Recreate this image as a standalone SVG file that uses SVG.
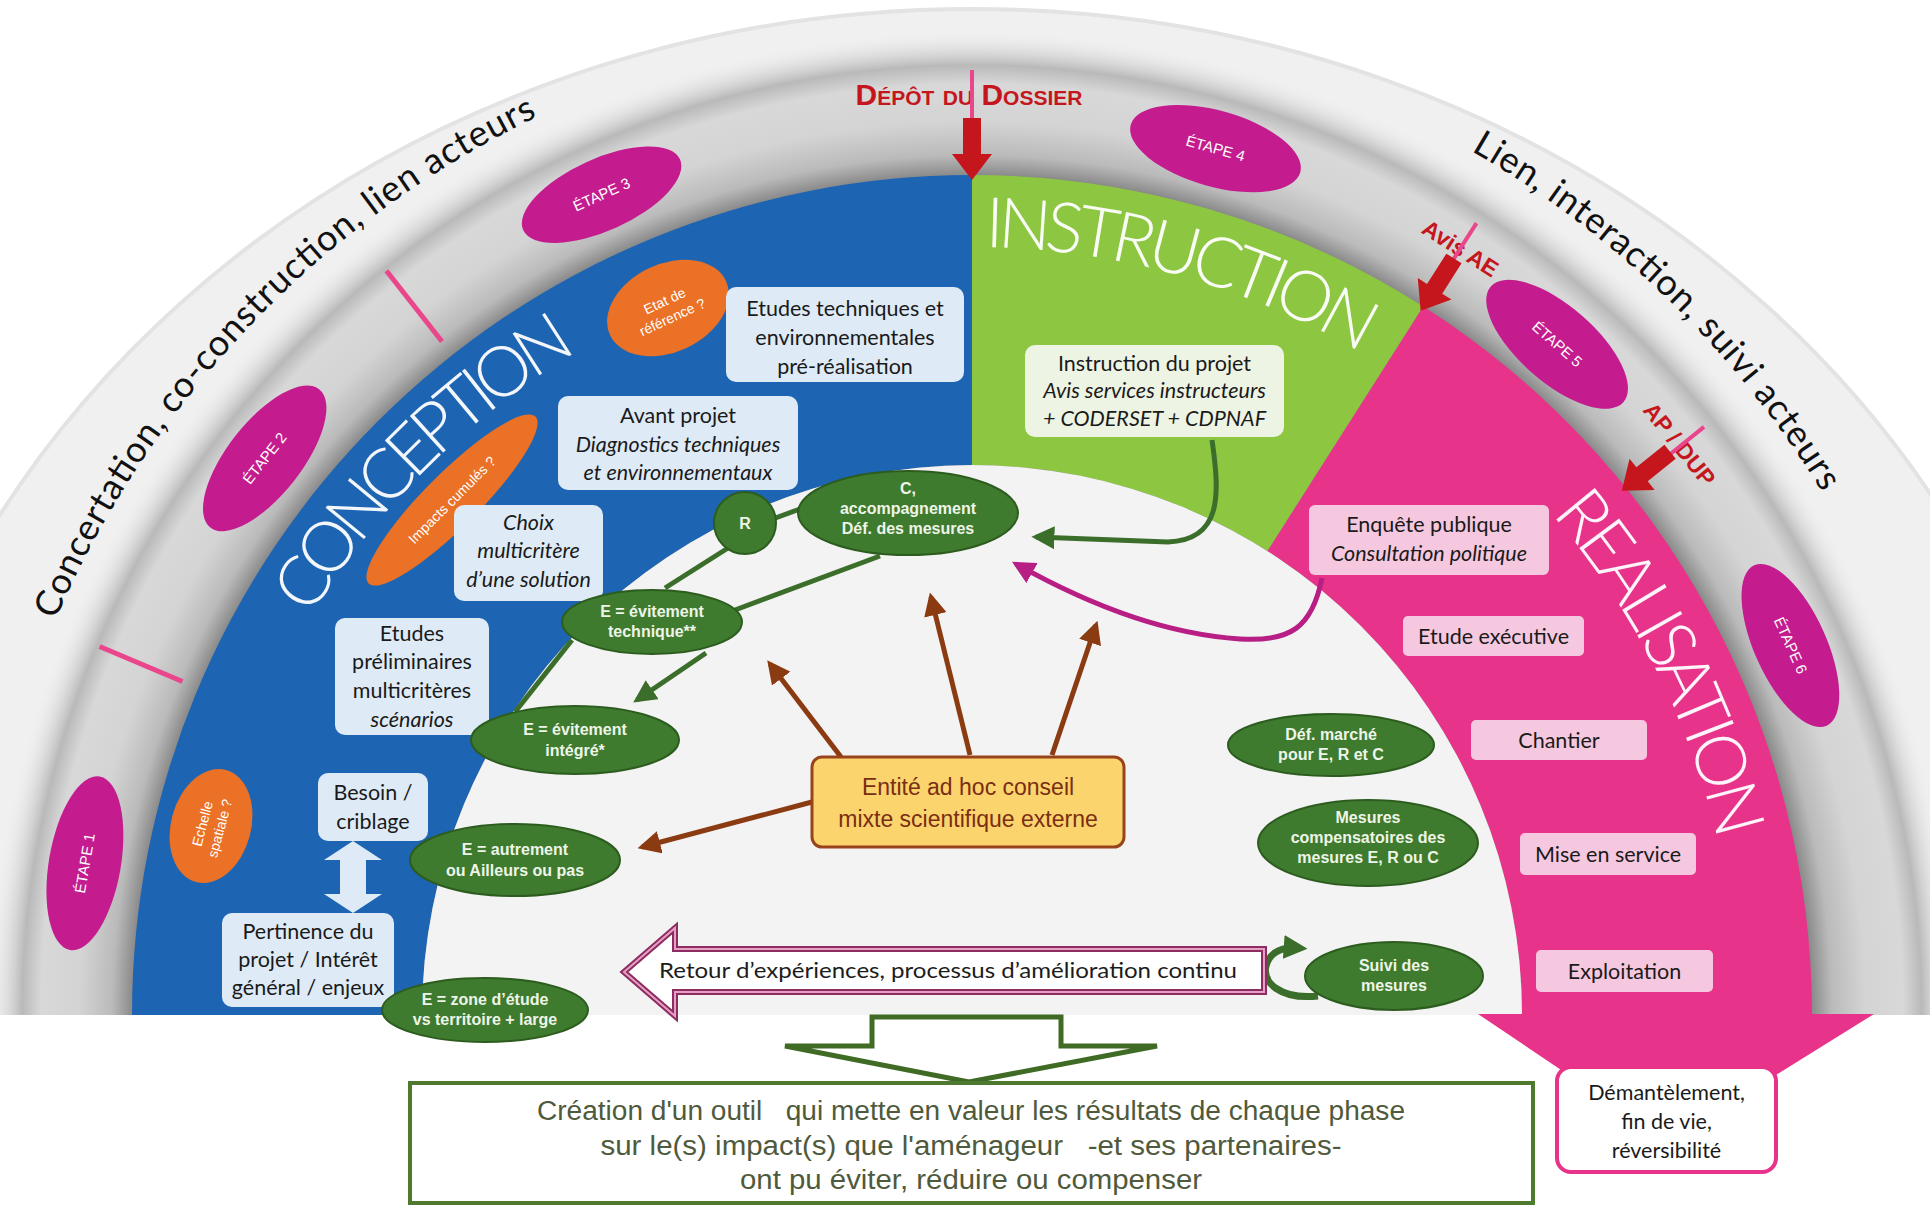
<svg xmlns="http://www.w3.org/2000/svg" width="1930" height="1205" viewBox="0 0 1930 1205">
<style>
.bx{font-family:Lato,'Liberation Sans',sans-serif;font-size:21.5px;fill:#1a1a1a;text-anchor:middle}
.it{font-style:italic}
.ge{font-family:'Liberation Sans',Arial,sans-serif;font-size:16px;font-weight:bold;fill:#eef5e8;text-anchor:middle}
.et{font-family:'Liberation Sans',Arial,sans-serif;font-size:15px;fill:#ffffff;text-anchor:middle}
.ot{font-family:'Liberation Sans',Arial,sans-serif;font-size:14px;fill:#ffffff;text-anchor:middle}
.ttl{font-family:Lato,'Liberation Sans',sans-serif;font-weight:300;font-size:70px;fill:#ffffff;fill-opacity:0.95}
.arcT{font-family:Lato,'Liberation Sans',sans-serif;font-size:36px;fill:#111111}
.red{font-family:'Liberation Sans',Arial,sans-serif;font-weight:bold;fill:#c4161c;text-anchor:middle}
.pk{stroke:#e9468c;stroke-width:4;fill:none}
.ra{fill:#c4161c}
.bb{fill:#deebf7}
.pb{fill:#f6c8df}
.eg{fill:#3e7b2e;stroke:#2d5c1f;stroke-width:2}
.et-el{fill:#c41c8e}
.or{fill:#ea7125}
.gl{stroke:#3b6e2b;stroke-width:5;fill:none}
.bl{stroke:#8a3b12;stroke-width:5;fill:none}
</style>
<defs>
<clipPath id="clipTop"><rect x="0" y="0" width="1930" height="1015"/></clipPath>
<radialGradient id="bandG" gradientUnits="userSpaceOnUse" cx="972" cy="1015" r="950">
<stop offset="0.884" stop-color="#8a8a8a"/>
<stop offset="0.905" stop-color="#bababa"/>
<stop offset="0.94" stop-color="#d4d4d4"/>
<stop offset="0.98" stop-color="#d8d8d8"/>
<stop offset="1" stop-color="#b9b9b9"/>
</radialGradient>
<radialGradient id="shadowG" gradientUnits="userSpaceOnUse" cx="972" cy="1015" r="985">
<stop offset="0.964" stop-color="#b8b8b8" stop-opacity="1"/>
<stop offset="1" stop-color="#efefef" stop-opacity="0"/>
</radialGradient>
<marker id="mBrown" viewBox="0 0 10 10" refX="8" refY="5" markerWidth="4.6" markerHeight="4.6" orient="auto"><path d="M0,0 L10,5 L0,10 z" fill="#8a3b12"/></marker>
<marker id="mGreen" viewBox="0 0 10 10" refX="8" refY="5" markerWidth="4.6" markerHeight="4.6" orient="auto"><path d="M0,0 L10,5 L0,10 z" fill="#3b6e2b"/></marker>
<marker id="mMag" viewBox="0 0 10 10" refX="8" refY="5" markerWidth="4.6" markerHeight="4.6" orient="auto"><path d="M0,0 L10,5 L0,10 z" fill="#b81f84"/></marker>
<marker id="mGreenBig" viewBox="0 0 10 10" refX="6" refY="5" markerWidth="3.4" markerHeight="3.4" orient="auto"><path d="M0,0 L10,5 L0,10 z" fill="#3b6e2b"/></marker>
<path id="outerArc" d="M-26,1015 A998,998 0 0 1 1970,1015" fill="none"/>
<path id="pC" d="M203.2,945.0 A772,772 0 0 1 907.4,245.7" fill="none"/>
<path id="pI" d="M656.0,315.0 A768,768 0 0 1 1606.4,582.2" fill="none"/>
<path id="pR" d="M1271.3,309.9 A766,766 0 0 1 1718.4,1187.3" fill="none"/>
</defs>

<rect x="0" y="0" width="1930" height="1205" fill="#ffffff"/>

<g id="background" clip-path="url(#clipTop)">
<ellipse cx="972" cy="1015" rx="1120" ry="1006" fill="#f0f0f0" stroke="#e3e3e3" stroke-width="4"/>
<circle cx="972" cy="1015" r="985" fill="url(#shadowG)"/>
<circle cx="972" cy="1015" r="950" fill="url(#bandG)"/>
<path id="sector-blue" d="M132,1015 A840,840 0 0 1 972,175 L972,465 A550,550 0 0 0 422,1015 Z" fill="#1d65b3"/>
<path id="sector-green" d="M972,175 A840,840 0 0 1 1423.3,306.5 L1267.5,551.1 A550,550 0 0 0 972,465 Z" fill="#8dc641"/>
<path id="sector-pink" d="M1423.3,306.5 A840,840 0 0 1 1812,1015 L1522,1015 A550,550 0 0 0 1267.5,551.1 Z" fill="#e8338a"/>
<circle cx="972" cy="1015" r="550" fill="#f3f3f3"/>
</g>
<polygon id="pink-arrowhead" points="1478,1014 1874,1014 1668,1142" fill="#e8338a"/>

<g id="ring-texts">
<text class="arcT"><textPath href="#outerArc" startOffset="406" textLength="712" lengthAdjust="spacing">Concertation, co-construction, lien acteurs</textPath></text>
<text class="arcT"><textPath href="#outerArc" startOffset="2090" textLength="495" lengthAdjust="spacing">Lien, interaction, suivi acteurs</textPath></text>
</g>

<g id="phase-titles">
<text class="ttl" text-anchor="middle"><textPath href="#pC" startOffset="50%" textLength="380" lengthAdjust="spacing">CONCEPTION</textPath></text>
<text class="ttl" text-anchor="middle"><textPath href="#pI" startOffset="50%" textLength="395" lengthAdjust="spacing">INSTRUCTION</textPath></text>
<text class="ttl" text-anchor="middle"><textPath href="#pR" startOffset="50%" textLength="370" lengthAdjust="spacing">REALISATION</textPath></text>
</g>

<g id="ticks">
<line x1="182.5" y1="681.5" x2="99.6" y2="646.5" stroke="#e9468c" stroke-width="5"/>
<line x1="442" y1="341.5" x2="386.4" y2="270.8" stroke="#e9468c" stroke-width="5"/>
</g>

<g id="etape1" transform="translate(84.9 863.3) rotate(-80.3)"><ellipse rx="88" ry="36" class="et-el"/><text class="et" y="5">ÉTAPE 1</text></g>
<g id="etape2" transform="translate(264.7 458.4) rotate(-51.8)"><ellipse rx="88" ry="37" class="et-el"/><text class="et" y="5">ÉTAPE 2</text></g>
<g id="etape3" transform="translate(601.6 194.7) rotate(-24.3)"><ellipse rx="86" ry="36" class="et-el"/><text class="et" y="5">ÉTAPE 3</text></g>
<g id="etape4" transform="translate(1215.5 148.6) rotate(15.7)"><ellipse rx="88" ry="38" class="et-el"/><text class="et" y="5">ÉTAPE 4</text></g>
<g id="etape5" transform="translate(1557.1 344.3) rotate(41.1)"><ellipse rx="88" ry="38" class="et-el"/><text class="et" y="5">ÉTAPE 5</text></g>
<g id="etape6" transform="translate(1790.4 645.5) rotate(65.7)"><ellipse rx="88" ry="36" class="et-el"/><text class="et" y="5">ÉTAPE 6</text></g>

<g id="depot" transform="translate(972 180)">
<text class="red" x="-3" y="-75" font-size="30" font-variant="small-caps">Dépôt du Dossier</text>
<line x1="0" y1="-110" x2="0" y2="-60" class="pk"/>
<polygon class="ra" points="-9,-62 9,-62 9,-26 20,-26 0,0 -20,-26 -9,-26"/>
</g>
<g id="avis-ae" transform="translate(972 1015) rotate(32.5) translate(0 -835)">
<text class="red" x="0" y="-66" font-size="23">Avis AE</text>
<line x1="0" y1="-104" x2="0" y2="-60" class="pk"/>
<polygon class="ra" points="-9,-62 9,-62 9,-26 20,-26 0,0 -20,-26 -9,-26"/>
</g>
<g id="ap-dup" transform="translate(972 1015) rotate(51.1) translate(0 -835)">
<text class="red" x="0" y="-66" font-size="23">AP / DUP</text>
<line x1="2" y1="-104" x2="2" y2="-60" class="pk"/>
<polygon class="ra" points="-9,-62 9,-62 9,-26 20,-26 0,0 -20,-26 -9,-26"/>
</g>

<g id="orange-etat" transform="translate(668 308) rotate(-25)"><ellipse rx="64" ry="44" class="or"/><text class="ot" y="-3">Etat de</text><text class="ot" y="15">référence ?</text></g>
<g id="orange-impacts" transform="translate(452 500) rotate(-45)"><ellipse rx="118" ry="27" class="or"/><text class="ot" y="5">Impacts cumulés ?</text></g>
<g id="orange-echelle" transform="translate(211 826) rotate(-75)"><ellipse rx="58" ry="40" class="or"/><text class="ot" y="-4">Echelle</text><text class="ot" y="14">spatiale ?</text></g>

<g id="box-etudes-tech"><rect x="726" y="287" width="238" height="95" rx="10" class="bb"/><text class="bx" x="845" y="316">Etudes techniques et</text><text class="bx" x="845" y="345">environnementales</text><text class="bx" x="845" y="374">pré-réalisation</text></g>
<g id="box-avant-projet"><rect x="558" y="396" width="240" height="94" rx="10" class="bb"/><text class="bx" x="678" y="423">Avant projet</text><text class="bx it" x="678" y="452">Diagnostics techniques</text><text class="bx it" x="678" y="480">et environnementaux</text></g>
<g id="box-choix"><rect x="454" y="505" width="149" height="96" rx="10" class="bb"/><text class="bx it" x="528.5" y="530">Choix</text><text class="bx it" x="528.5" y="558">multicritère</text><text class="bx it" x="528.5" y="587">d’une solution</text></g>
<g id="box-etudes-prelim"><rect x="335" y="618" width="154" height="117" rx="10" class="bb"/><text class="bx" x="412" y="641">Etudes</text><text class="bx" x="412" y="669">préliminaires</text><text class="bx" x="412" y="698">multicritères</text><text class="bx it" x="412" y="727">scénarios</text></g>
<g id="box-besoin"><rect x="318" y="773" width="110" height="68" rx="10" class="bb"/><text class="bx" x="373" y="800">Besoin /</text><text class="bx" x="373" y="829">criblage</text></g>
<g id="box-pertinence"><rect x="222" y="913" width="172" height="94" rx="10" class="bb"/><text class="bx" x="308" y="939">Pertinence du</text><text class="bx" x="308" y="967">projet / Intérêt</text><text class="bx" x="308" y="995">général / enjeux</text></g>
<polygon id="double-arrow" points="353,841 382,860 366,860 366,894 382,894 353,913 324,894 340,894 340,860 324,860" fill="#deebf7"/>

<g id="box-instruction"><rect x="1025" y="345" width="259" height="92" rx="10" fill="#eef4e4"/><text class="bx" x="1154.5" y="371">Instruction du projet</text><text class="bx it" x="1154.5" y="398">Avis services instructeurs</text><text class="bx it" x="1154.5" y="426">+ CODERSET + CDPNAF</text></g>

<g id="box-enquete"><rect x="1309" y="505" width="240" height="70" rx="6" class="pb"/><text class="bx" x="1429" y="532">Enquête publique</text><text class="bx it" x="1429" y="561">Consultation politique</text></g>
<g id="box-etude-exec"><rect x="1403" y="616" width="181" height="40" rx="5" class="pb"/><text class="bx" x="1493.5" y="644">Etude exécutive</text></g>
<g id="box-chantier"><rect x="1471" y="720" width="176" height="40" rx="5" class="pb"/><text class="bx" x="1559" y="748">Chantier</text></g>
<g id="box-mise"><rect x="1520" y="833" width="176" height="42" rx="5" class="pb"/><text class="bx" x="1608" y="862">Mise en service</text></g>
<g id="box-exploitation"><rect x="1536" y="950" width="177" height="42" rx="5" class="pb"/><text class="bx" x="1624.5" y="979">Exploitation</text></g>
<g id="box-demantelement"><rect x="1557" y="1067" width="219" height="105" rx="14" fill="#ffffff" stroke="#e8338a" stroke-width="4"/><text class="bx" x="1666.5" y="1100">Démantèlement,</text><text class="bx" x="1666.5" y="1129">fin de vie,</text><text class="bx" x="1666.5" y="1158">réversibilité</text></g>

<g id="connectors">
<line class="gl" x1="800" y1="509" x2="770" y2="520"/>
<line class="gl" x1="728" y1="548" x2="665" y2="588"/>
<line class="gl" x1="572" y1="640" x2="515" y2="712"/>
<line class="gl" x1="880" y1="556" x2="735" y2="610"/>
<line class="gl" x1="706" y1="653" x2="637" y2="700" marker-end="url(#mGreen)"/>
<path class="gl" d="M1212,440 C1220,495 1222,540 1168,542 L1036,537" marker-end="url(#mGreen)"/>
<path d="M1322,578 C1312,628 1290,642 1240,639 C1160,634 1080,600 1016,564" stroke="#b81f84" stroke-width="5" fill="none" marker-end="url(#mMag)"/>
<line class="bl" x1="841" y1="757" x2="770" y2="664" marker-end="url(#mBrown)"/>
<line class="bl" x1="970" y1="755" x2="931" y2="597" marker-end="url(#mBrown)"/>
<line class="bl" x1="1052" y1="755" x2="1096" y2="625" marker-end="url(#mBrown)"/>
<line class="bl" x1="812" y1="802" x2="642" y2="847" marker-end="url(#mBrown)"/>
<path d="M1318,996 C1280,1000 1262,982 1266,966 C1270,951 1284,947 1298,948" stroke="#3b6e2b" stroke-width="7" fill="none" marker-end="url(#mGreenBig)"/>
</g>

<g id="ell-c"><ellipse cx="908" cy="513" rx="110" ry="42" class="eg"/><text class="ge" x="908" y="494">C,</text><text class="ge" x="908" y="514">accompagnement</text><text class="ge" x="908" y="534">Déf. des mesures</text></g>
<g id="ell-r"><circle cx="745" cy="523" r="31" class="eg"/><text class="ge" x="745" y="529" font-size="18">R</text></g>
<g id="ell-etech"><ellipse cx="652" cy="622" rx="90" ry="32" class="eg"/><text class="ge" x="652" y="617">E = évitement</text><text class="ge" x="652" y="637">technique**</text></g>
<g id="ell-eint"><ellipse cx="575" cy="740" rx="104" ry="34" class="eg"/><text class="ge" x="575" y="735">E = évitement</text><text class="ge" x="575" y="756">intégré*</text></g>
<g id="ell-eaut"><ellipse cx="515" cy="860" rx="105" ry="36" class="eg"/><text class="ge" x="515" y="855">E = autrement</text><text class="ge" x="515" y="876">ou Ailleurs ou pas</text></g>
<g id="ell-ezone"><ellipse cx="485" cy="1010" rx="103" ry="32" class="eg"/><text class="ge" x="485" y="1005">E = zone d’étude</text><text class="ge" x="485" y="1025">vs territoire + large</text></g>
<g id="ell-defmarche"><ellipse cx="1331" cy="745" rx="103" ry="31" class="eg"/><text class="ge" x="1331" y="740">Déf. marché</text><text class="ge" x="1331" y="760">pour E, R et C</text></g>
<g id="ell-mesures"><ellipse cx="1368" cy="843" rx="110" ry="43" class="eg"/><text class="ge" x="1368" y="823">Mesures</text><text class="ge" x="1368" y="843">compensatoires des</text><text class="ge" x="1368" y="863">mesures E, R ou C</text></g>
<g id="ell-suivi"><ellipse cx="1394" cy="976" rx="89" ry="34" class="eg"/><text class="ge" x="1394" y="971">Suivi des</text><text class="ge" x="1394" y="991">mesures</text></g>

<g id="box-entite"><rect x="812" y="757" width="312" height="90" rx="10" fill="#fbd46e" stroke="#98431a" stroke-width="3"/><text x="968" y="795" font-family="'Liberation Sans',Arial,sans-serif" font-size="23" fill="#7a2e12" text-anchor="middle">Entité ad hoc conseil</text><text x="968" y="827" font-family="'Liberation Sans',Arial,sans-serif" font-size="23" fill="#7a2e12" text-anchor="middle">mixte scientifique externe</text></g>

<g id="retour">
<polygon points="624,972 675,928 675,949 1264,949 1264,992 675,992 675,1016" fill="#ffffff" stroke="#8d2c60" stroke-width="6" stroke-linejoin="miter"/>
<polygon points="624,972 675,928 675,949 1264,949 1264,992 675,992 675,1016" fill="none" stroke="#e6a0c4" stroke-width="2"/>
<text x="948" y="978" font-family="Lato,'Liberation Sans',sans-serif" font-size="22" fill="#1c1c1c" text-anchor="middle" textLength="578" lengthAdjust="spacingAndGlyphs">Retour d’expériences, processus d’amélioration continu</text>
</g>

<polygon id="down-arrow" points="872,1017 1061,1017 1061,1046 1157,1046 969,1082 785,1046 872,1046" fill="#ffffff" stroke="#3f6b25" stroke-width="5" stroke-linejoin="miter"/>

<g id="box-creation">
<rect x="410" y="1083" width="1123" height="120" fill="#ffffff" stroke="#4e7a2f" stroke-width="4"/>
<text xml:space="preserve" x="971" y="1120" font-family="'Liberation Sans',Arial,sans-serif" font-size="27" fill="#4f5a3c" text-anchor="middle" textLength="868" lengthAdjust="spacingAndGlyphs">Création d'un outil   qui mette en valeur les résultats de chaque phase</text>
<text xml:space="preserve" x="971" y="1155" font-family="'Liberation Sans',Arial,sans-serif" font-size="27" fill="#4f5a3c" text-anchor="middle" textLength="741" lengthAdjust="spacingAndGlyphs">sur le(s) impact(s) que l'aménageur   -et ses partenaires-</text>
<text x="971" y="1189" font-family="'Liberation Sans',Arial,sans-serif" font-size="27" fill="#4f5a3c" text-anchor="middle" textLength="462" lengthAdjust="spacingAndGlyphs">ont pu éviter, réduire ou compenser</text>
</g>
</svg>
